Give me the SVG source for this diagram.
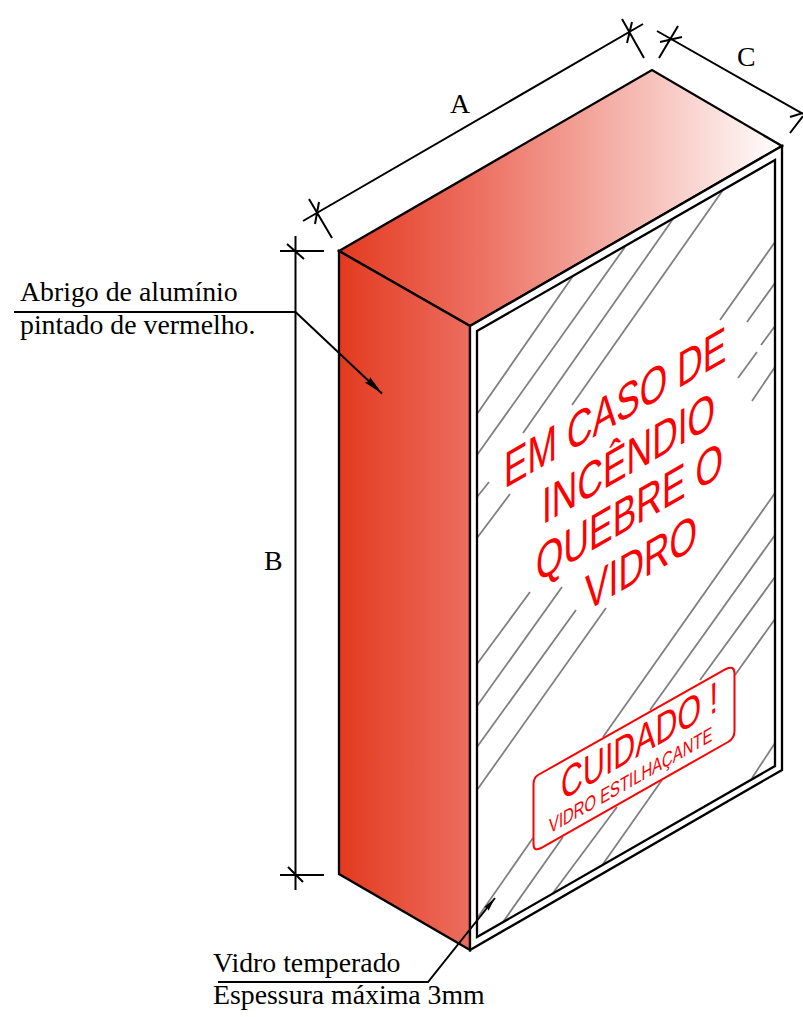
<svg xmlns="http://www.w3.org/2000/svg" width="803" height="1017" viewBox="0 0 803 1017">
<style>
.k{fill:none;stroke:#000;stroke-width:2.3;stroke-linejoin:miter}
.d{fill:none;stroke:#000;stroke-width:2}
.h{fill:none;stroke:#808080;stroke-width:1.8}
.t{font-family:"Liberation Serif","Times New Roman",serif;font-size:27.8px;fill:#000}
.r{font-family:"Liberation Sans",Arial,sans-serif;fill:#f00}
</style>
<defs>
<linearGradient id="gt" gradientUnits="userSpaceOnUse" x1="339" y1="0" x2="782" y2="0"><stop offset="0" stop-color="#e33a20"/><stop offset="0.3" stop-color="#ec6d5e"/><stop offset="1" stop-color="#ffffff"/></linearGradient>
<linearGradient id="gl" gradientUnits="userSpaceOnUse" x1="339" y1="0" x2="470" y2="0"><stop offset="0" stop-color="#e33a20"/><stop offset="1" stop-color="#ec6d5e"/></linearGradient>
<marker id="ah" markerUnits="userSpaceOnUse" markerWidth="24" markerHeight="10" refX="21" refY="4.5" orient="auto"><path d="M1 .7L21 4.5L1 8.3L3 4.5Z" fill="#000"/></marker>
<marker id="ah2" markerUnits="userSpaceOnUse" markerWidth="18" markerHeight="8" refX="15" refY="3.5" orient="auto"><path d="M1 .6L15 3.5L1 6.4L2.5 3.5Z" fill="#000"/></marker>
</defs>
<g id="box">
<polygon points="339,251 652,70 782,146 470,326" class="k" style="fill:url(#gt)"/>
<polygon points="339,251 470,326 470,950 339,874" class="k" style="fill:url(#gl)"/>
<polygon points="470,326 782,146 782,770 470,950" class="k" style="fill:#fff"/>
</g>
<g id="hatch" class="h">
<path d="M477 414L573 276M477 455L625 247M523 433L673 219M572 405L723 190M720 320L775 242M747 322L775 283M761 345L775 326M738 378L757 352M752 401L775 367M477 497L489 482M477 538L510 494"/>
<path d="M477 664L530 592M477 706L562 587M477 747L576 610M477 790L606 608"/>
<path d="M775 493L603 737M775 535L650 710M775 577L700 680M775 619L735 675"/>
<path d="M533 838L478 917M563 837L503 922M617 807L553 893M662 780L603 864M775 743L752 778"/>
</g>
<g id="frame"><polygon points="477,331 775,160 775,766 477,937" class="k"/></g>
<g id="labels">
<text class="r" font-size="44" transform="matrix(.805 -.465 0 1.15 504 489)">EM CASO DE</text>
<text class="r" font-size="44" transform="matrix(.805 -.465 0 1.15 542 525)">INCÊNDIO</text>
<text class="r" font-size="44" transform="matrix(.805 -.465 0 1.15 536 583)">QUEBRE O</text>
<text class="r" font-size="44" transform="matrix(.805 -.465 0 1.15 585 612)">VIDRO</text>
<g id="cuidado">
<path d="M538 775L726 669Q734 665 734.5 673L734.5 731Q734.5 738 728 742L541 848Q533.5 852 533.5 844L533.5 784Q533.5 778 538 775Z" fill="none" stroke="#f00" stroke-width="2"/>
<text class="r" font-size="38" transform="matrix(.8 -.46 0 1.15 561 801)">CUIDADO !</text>
<text class="r" font-size="20" transform="matrix(.743 -.425 0 1.05 549 834)">VIDRO ESTILHAÇANTE</text>
</g>
</g>
<g id="connectors">
<path class="d" d="M303 221L643 24M309 199L332 238M622 19L644 58M319 202L315 224M632 22L627 43"/>
<path class="d" d="M657 31L803 114M678 26L659 58M660 42L682 37M803 116L790 133M790 117L803 113"/>
<path class="d" d="M295.500 236V890M280 251H324M280 875H324M287 244L304 259M288 867L303 882"/>
<path class="d" d="M14 312H295.500L382 393.500" marker-end="url(#ah)"/>
<path class="d" d="M218 982H428L495 898" marker-end="url(#ah2)"/>
</g>
<g id="text">
<text class="t" x="450" y="113">A</text>
<text class="t" x="737" y="66">C</text>
<text class="t" x="264" y="570">B</text>
<text class="t" x="20" y="301">Abrigo de alumínio</text>
<text class="t" x="20" y="333.500">pintado de vermelho.</text>
<text class="t" x="213" y="972">Vidro temperado</text>
<text class="t" x="213" y="1004">Espessura máxima 3mm</text>
</g>
</svg>
